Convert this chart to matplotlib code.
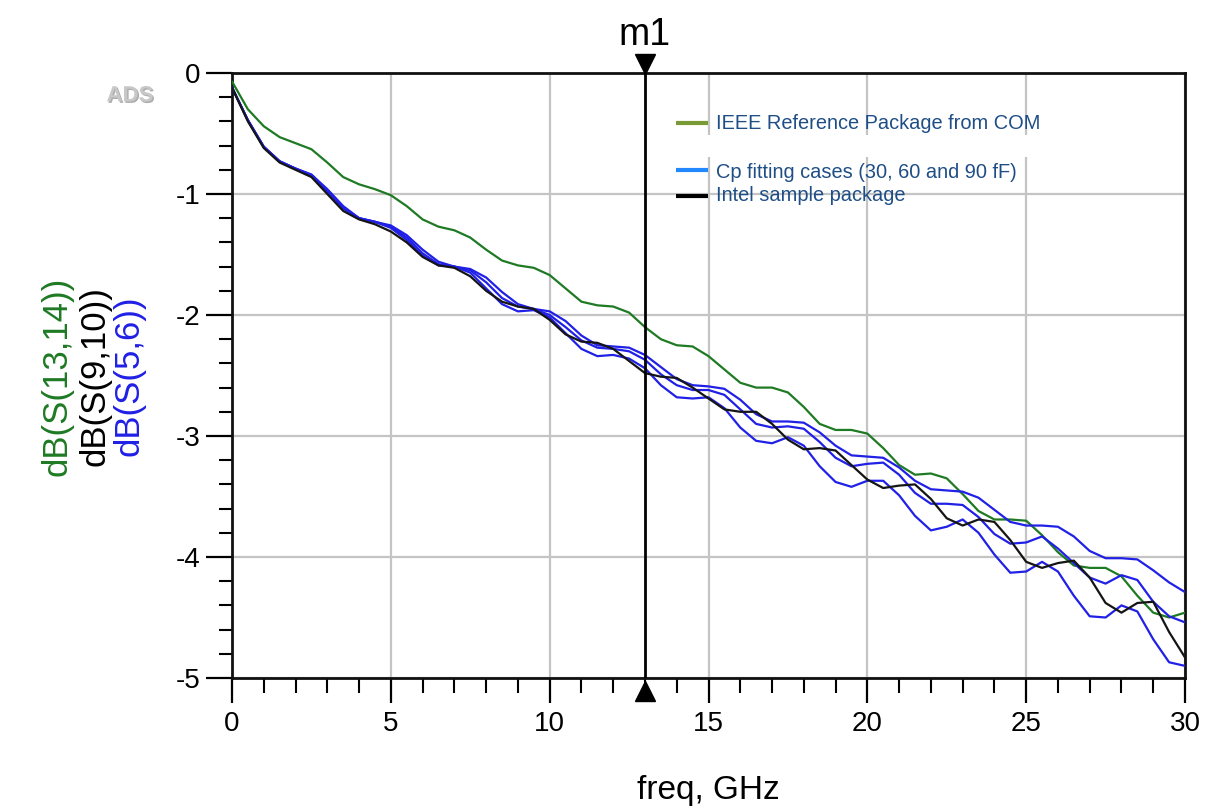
import matplotlib
matplotlib.use("Agg")
import matplotlib.pyplot as plt
import matplotlib.transforms as mtransforms
import matplotlib.patheffects as pe
import numpy as np

# ---------------- data ----------------
freq_ghz = [i * 0.5 for i in range(61)]

ieee_ref = [-0.07, -0.30, -0.44, -0.53, -0.58, -0.63, -0.74, -0.86, -0.92, -0.96,
            -1.01, -1.10, -1.21, -1.27, -1.30, -1.36, -1.46, -1.55, -1.59, -1.61,
            -1.67, -1.78, -1.89, -1.92, -1.93, -1.98, -2.10, -2.20, -2.25, -2.26,
            -2.34, -2.45, -2.56, -2.60, -2.60, -2.64, -2.76, -2.90, -2.95, -2.95,
            -2.98, -3.10, -3.24, -3.32, -3.31, -3.35, -3.48, -3.62, -3.69, -3.69,
            -3.70, -3.82, -3.96, -4.07, -4.09, -4.09, -4.16, -4.32, -4.46, -4.50,
            -4.46]

intel_pkg = [-0.12, -0.40, -0.62, -0.74, -0.80, -0.86, -1.00, -1.14, -1.21, -1.25,
             -1.31, -1.40, -1.52, -1.59, -1.61, -1.68, -1.80, -1.89, -1.93, -1.95,
             -2.04, -2.16, -2.22, -2.23, -2.28, -2.38, -2.48, -2.51, -2.52, -2.60,
             -2.69, -2.78, -2.80, -2.80, -2.90, -3.03, -3.11, -3.10, -3.12, -3.24,
             -3.36, -3.43, -3.41, -3.40, -3.52, -3.68, -3.74, -3.69, -3.71, -3.86,
             -4.04, -4.09, -4.05, -4.03, -4.17, -4.38, -4.46, -4.38, -4.37, -4.62,
             -4.83]

cp_30ff = [-0.12, -0.39, -0.61, -0.73, -0.79, -0.84, -0.96, -1.10, -1.20, -1.23,
           -1.26, -1.34, -1.46, -1.56, -1.60, -1.62, -1.69, -1.81, -1.91, -1.95,
           -1.97, -2.05, -2.17, -2.25, -2.26, -2.27, -2.33, -2.43, -2.53, -2.58,
           -2.59, -2.61, -2.70, -2.82, -2.88, -2.88, -2.89, -2.97, -3.08, -3.16,
           -3.17, -3.18, -3.26, -3.37, -3.44, -3.45, -3.46, -3.51, -3.61, -3.71,
           -3.74, -3.74, -3.75, -3.83, -3.95, -4.01, -4.01, -4.02, -4.11, -4.21,
           -4.29]

cp_60ff = [-0.12, -0.39, -0.61, -0.73, -0.79, -0.84, -0.97, -1.11, -1.20, -1.23,
           -1.27, -1.36, -1.49, -1.58, -1.60, -1.63, -1.73, -1.86, -1.93, -1.95,
           -2.00, -2.10, -2.21, -2.27, -2.28, -2.30, -2.37, -2.49, -2.58, -2.62,
           -2.62, -2.66, -2.78, -2.90, -2.93, -2.92, -2.94, -3.05, -3.18, -3.25,
           -3.23, -3.22, -3.32, -3.47, -3.56, -3.56, -3.57, -3.67, -3.81, -3.89,
           -3.88, -3.83, -3.93, -4.05, -4.17, -4.22, -4.15, -4.19, -4.37, -4.49,
           -4.54]

cp_90ff = [-0.12, -0.39, -0.61, -0.73, -0.79, -0.85, -0.98, -1.12, -1.20, -1.23,
           -1.28, -1.38, -1.51, -1.59, -1.60, -1.65, -1.78, -1.91, -1.97, -1.96,
           -2.02, -2.15, -2.28, -2.34, -2.33, -2.36, -2.44, -2.58, -2.68, -2.69,
           -2.68, -2.77, -2.93, -3.04, -3.06, -3.01, -3.08, -3.25, -3.38, -3.42,
           -3.37, -3.37, -3.49, -3.66, -3.78, -3.75, -3.69, -3.80, -3.98, -4.13,
           -4.12, -4.04, -4.12, -4.32, -4.49, -4.50, -4.40, -4.45, -4.68, -4.87,
           -4.90]

marker_freq = 13.0
x_ticks = [0, 5, 10, 15, 20, 25, 30]
y_ticks = [0, -1, -2, -3, -4, -5]
legend_labels = ["IEEE Reference Package from COM",
                 "Cp fitting cases (30, 60 and 90 fF)",
                 "Intel sample package"]
ylabel_parts = ["dB(S(13,14))", "dB(S(9,10))", "dB(S(5,6))"]

# ---------------- styling ----------------
GREEN = "#1f7a24"
BLUE = "#2020e6"
LEG_OLIVE = "#7a9a36"
LEG_BLUE = "#2288ff"
LEG_TEXT = "#1f4e86"
NUM_FONT = ["Liberation Sans Narrow", "Liberation Sans", "DejaVu Sans"]
SANS = ["Liberation Sans", "DejaVu Sans"]

fig = plt.figure(figsize=(12.10, 8.08), dpi=100)
ax = fig.add_axes([232 / 1210, 1 - 678 / 808, 953 / 1210, 605 / 808])

ax.set_xlim(0, 30)
ax.set_ylim(-5, 0)

# grid
ax.set_xticks(x_ticks)
ax.set_yticks(y_ticks)
ax.set_xticks(np.arange(0, 31, 1), minor=True)
ax.set_yticks(np.arange(-5, 0.01, 0.2), minor=True)
ax.grid(True, which="major", color="#c4c4c4", linewidth=1.6, zorder=0)
ax.set_axisbelow(True)

# white patch hiding the grid (pasted legend image)
ax.add_patch(plt.Rectangle((0.4975, 0.861), 0.393, 0.037, transform=ax.transAxes,
                           facecolor="white", edgecolor="none", zorder=1))

# curves
line_kw = dict(lw=1.6, solid_joinstyle="round", solid_capstyle="round")
ax.plot(freq_ghz, ieee_ref, color=GREEN, zorder=3, **line_kw)
ax.plot(freq_ghz, cp_30ff, color=BLUE, zorder=3, **line_kw)
ax.plot(freq_ghz, cp_60ff, color=BLUE, zorder=3, **line_kw)
ax.plot(freq_ghz, cp_90ff, color=BLUE, zorder=3, **line_kw)
ax.plot(freq_ghz, intel_pkg, color="#151515", zorder=4, **line_kw)

# marker m1
ax.axvline(marker_freq, color="black", lw=2.0, zorder=5)
blend = mtransforms.blended_transform_factory(ax.transData, ax.transAxes)
ax.plot([marker_freq], [1.0155], marker="v", markersize=15, color="black",
        transform=blend, clip_on=False, zorder=6)
ax.plot([marker_freq], [-0.0215], marker="^", markersize=15, color="black",
        transform=blend, clip_on=False, zorder=6)
ax.text(marker_freq, 1.062, "m1", transform=blend, ha="center", va="center",
        fontsize=27, family=SANS, color="black")

# spines & ticks
for s in ax.spines.values():
    s.set_linewidth(2.0)
    s.set_color("#111111")
ax.tick_params(axis="x", which="major", direction="out", length=18, width=1.6,
               pad=6, labelsize=20)
ax.tick_params(axis="x", which="minor", direction="out", length=11, width=1.5)
ax.tick_params(axis="y", which="major", direction="out", length=19, width=1.6,
               pad=4, labelsize=20)
ax.tick_params(axis="y", which="minor", direction="out", length=9.5, width=1.5)
ax.set_xticklabels([str(v) for v in x_ticks], family=NUM_FONT)
ax.set_yticklabels([str(v) for v in y_ticks], family=NUM_FONT)

ax.set_xlabel("freq, GHz", fontsize=24, family=SANS, labelpad=27)

# multi-colour y label
ylab_x = [57 / 1210, 95 / 1210, 129 / 1210]
ylab_c = [GREEN, "black", BLUE]
for txt, xx, cc in zip(ylabel_parts, ylab_x, ylab_c):
    fig.text(xx, 1 - 376 / 808, txt, rotation=90, ha="center", va="center",
             fontsize=25, family=SANS, color=cc)

# legend (manual, as in the pasted picture)
leg_rows = [(0.917, 0.916, LEG_OLIVE), (0.840, 0.836, LEG_BLUE), (0.797, 0.797, "black")]
for (ly, ty, lc), lab in zip(leg_rows, legend_labels):
    ax.plot([0.466, 0.4995], [ly, ly], color=lc, lw=3, transform=ax.transAxes,
            solid_capstyle="butt", zorder=6)
    ax.text(0.508, ty, lab, transform=ax.transAxes, ha="left", va="center",
            fontsize=14.4, family=SANS, color=LEG_TEXT, zorder=6)

# ADS watermark
fig.text(130 / 1210, 1 - 96 / 808, "ADS", ha="center", va="center", fontsize=16,
         family=SANS, fontweight="bold", color="#c8c8c8",
         path_effects=[pe.withSimplePatchShadow(offset=(1, -1), shadow_rgbFace="#777777",
                                                alpha=0.6)])

fig.savefig("out.png", dpi=100, facecolor="white")
